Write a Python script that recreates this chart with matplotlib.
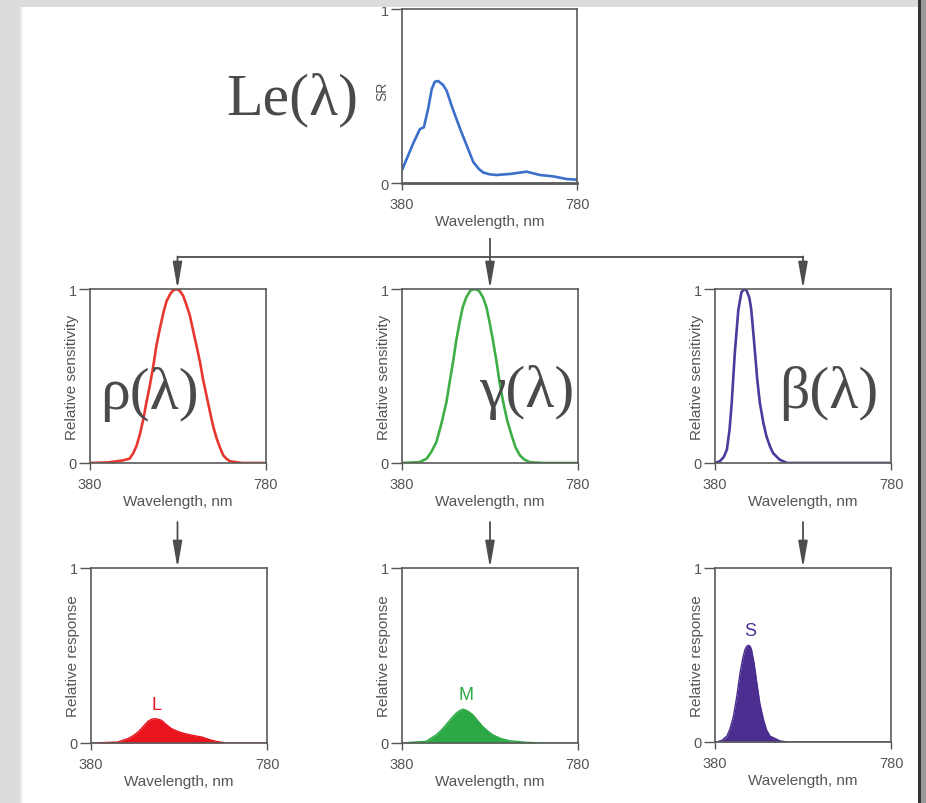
import matplotlib
matplotlib.use('Agg')
import matplotlib.pyplot as plt
from matplotlib.patches import Rectangle, FancyArrowPatch
from matplotlib.lines import Line2D

# ---------------- data ----------------
x_ticks = [380, 780]
y_ticks = [0, 1]

spd_wl = [381, 391, 406, 421, 430, 440, 448, 455, 463, 474, 482, 494, 513, 528, 543,
          556, 566, 580, 596, 627, 665, 695, 726, 756, 779]
spd_val = [0.08, 0.14, 0.23, 0.31, 0.32, 0.43, 0.54, 0.582, 0.586, 0.563, 0.531, 0.44,
           0.31, 0.215, 0.12, 0.08, 0.06, 0.05, 0.046, 0.052, 0.065, 0.046, 0.038, 0.023,
           0.019]

rho_wl = [380, 420, 441, 455, 470, 478, 486, 494, 501, 508, 516, 524, 531, 539, 547,
          554, 562, 568, 576, 584, 592, 599, 607, 614, 622, 630, 637, 645, 653, 660,
          668, 676, 683, 690, 698, 725, 780]
rho = [0, 0.003, 0.01, 0.015, 0.025, 0.055, 0.10, 0.17, 0.25, 0.345, 0.445, 0.56, 0.675,
       0.775, 0.866, 0.93, 0.97, 0.99, 1.0, 0.99, 0.96, 0.91, 0.847, 0.765, 0.675, 0.58,
       0.48, 0.385, 0.29, 0.21, 0.14, 0.085, 0.044, 0.025, 0.01, 0, 0]

gamma_wl = [380, 420, 436, 447, 458, 469, 481, 488, 496, 503, 511, 518, 526, 535, 545,
            555, 564, 572, 579, 587, 595, 602, 610, 619, 629, 638, 648, 658, 670, 700,
            780]
gamma = [0, 0.005, 0.025, 0.065, 0.12, 0.22, 0.35, 0.46, 0.58, 0.70, 0.81, 0.895, 0.952,
         0.99, 1.0, 0.99, 0.952, 0.895, 0.81, 0.70, 0.58, 0.46, 0.35, 0.245, 0.16, 0.09,
         0.044, 0.02, 0.005, 0, 0]

beta_wl = [380, 391, 400, 407, 413, 418, 425, 433, 440, 446, 452, 458, 462, 466, 471,
           476, 482, 490, 497, 505, 512, 527, 544, 780]
beta = [0, 0.01, 0.035, 0.077, 0.19, 0.345, 0.632, 0.88, 0.98, 1.0, 0.99, 0.95, 0.89,
        0.78, 0.632, 0.48, 0.345, 0.23, 0.153, 0.095, 0.057, 0.019, 0, 0]

L_wl = [380, 440, 464, 476, 487, 498, 509, 518, 525, 532, 540, 551, 563, 578, 594, 612,
        632, 648, 663, 686, 780]
L_resp = [0, 0.005, 0.025, 0.042, 0.063, 0.092, 0.123, 0.136, 0.139, 0.136, 0.13, 0.105,
          0.082, 0.065, 0.053, 0.043, 0.034, 0.02, 0.01, 0, 0]

M_wl = [380, 435, 458, 469, 480, 492, 503, 512, 520, 530, 541, 552, 563, 575, 586, 604,
        624, 662, 700, 780]
M_resp = [0, 0.01, 0.047, 0.073, 0.104, 0.14, 0.17, 0.187, 0.193, 0.182, 0.161, 0.128,
          0.095, 0.068, 0.047, 0.026, 0.013, 0.004, 0, 0]

S_wl = [380, 384, 396, 407, 414, 422, 430, 437, 443, 448, 452, 456, 460, 463, 469, 475,
        482, 490, 497, 505, 528, 545, 780]
S_resp = [0, 0, 0.01, 0.034, 0.075, 0.149, 0.27, 0.398, 0.48, 0.53, 0.55, 0.556, 0.55,
          0.53, 0.45, 0.34, 0.22, 0.13, 0.07, 0.034, 0.006, 0, 0]

# ---------------- figure ----------------
W, H = 926, 804
fig = plt.figure(figsize=(W / 100, H / 100), dpi=100, facecolor='#dcdcdc')

TC = '#555555'
SANS = ['Liberation Sans', 'DejaVu Sans']
SERIF = ['Liberation Serif', 'DejaVu Serif']


def rect(x0, y0, x1, y1):
    return [x0 / W, 1 - y1 / H, (x1 - x0) / W, (y1 - y0) / H]


def fx(x):
    return x / W


def fy(y):
    return 1 - y / H


# white page
fig.add_artist(Rectangle((fx(20), 0), fx(918) - fx(20), fy(8), transform=fig.transFigure,
                         facecolor='white', edgecolor='none', zorder=-5))
for i, a in enumerate([0.10, 0.06, 0.03]):
    fig.add_artist(Rectangle((fx(20 + i), 0), fx(1), fy(8), transform=fig.transFigure,
                             facecolor='black', alpha=a, edgecolor='none', zorder=-4))


def style(ax, ylabel, lab_x=-0.06, lab_size=11):
    ax.set_xlim(380, 780)
    ax.set_ylim(0, 1)
    ax.set_xticks(x_ticks)
    ax.set_yticks(y_ticks)
    ax.set_xticklabels([str(t) for t in x_ticks], family=SANS)
    ax.set_yticklabels([str(t) for t in y_ticks], family=SANS)
    ax.tick_params(axis='x', length=5, width=1, pad=5, labelsize=10.5, colors=TC)
    ax.tick_params(axis='y', length=8, width=1, pad=1.5, labelsize=10.5, colors=TC)
    for s in ax.spines.values():
        s.set_color('#5a5a5a')
        s.set_linewidth(1.2)
    ax.set_xlabel('Wavelength, nm', fontsize=11, color=TC, family=SANS)
    ax.xaxis.set_label_coords(0.5, -0.177)
    ax.set_ylabel(ylabel, fontsize=lab_size, color=TC, family=SANS)
    ax.yaxis.set_label_coords(lab_x, 0.5)


# top SPD
ax0 = fig.add_axes(rect(402, 10, 577, 184))
ax0.plot(spd_wl, spd_val, color='#3b6fc9', lw=1.9, solid_joinstyle='round')
style(ax0, 'SR', lab_x=-0.07, lab_size=10)
ax0.yaxis.set_label_coords(-0.07, 0.53)
ax0.spines['bottom'].set_linewidth(2.0)

# sensitivities
sens = [
    (rect(90, 290, 266, 464), rho_wl, rho, '#e8372f'),
    (rect(402, 290, 578, 464), gamma_wl, gamma, '#3fae46'),
    (rect(715, 290, 891, 464), beta_wl, beta, '#4c3b9c'),
]
sens_axes = []
for pos, wl, v, c in sens:
    ax = fig.add_axes(pos)
    ax.plot(wl, v, color=c, lw=1.9, solid_joinstyle='round')
    style(ax, 'Relative sensitivity')
    sens_axes.append(ax)

# responses
resp = [
    (rect(91, 569, 267, 744), L_wl, L_resp, '#e8141e', 'L'),
    (rect(402, 569, 578, 744), M_wl, M_resp, '#2ca844', 'M'),
    (rect(715, 569, 891, 743), S_wl, S_resp, '#4b2e90', 'S'),
]
for pos, wl, v, c, name in resp:
    ax = fig.add_axes(pos)
    ax.fill_between(wl, v, 0, color=c, lw=0)
    ax.plot(wl, v, color=c, lw=1.0)
    style(ax, 'Relative response')
    pk = max(range(len(v)), key=lambda i: v[i])
    ax.text(wl[pk] + 5, v[pk] + 0.035, name, color=c, fontsize=13, family=SANS,
            ha='center', va='bottom')

# Greek labels
GC = '#4a4a4a'
fig.text(fx(292), fy(100), 'Le(λ)', family=SERIF, fontsize=43, color=GC,
         ha='center', va='center')
greek = ['ρ(λ)', 'γ(λ)', 'β(λ)']
gpos = [(0.335, 0.40), (0.71, 0.41), (0.645, 0.405)]
for ax, g, (gx, gy) in zip(sens_axes, greek, gpos):
    ax.text(gx, gy, g, transform=ax.transAxes, family=SERIF, fontsize=43, color=GC,
            ha='center', va='center')

# connectors and arrows
LC = '#4d4d4d'
fig.add_artist(Line2D([fx(490), fx(490)], [fy(240), fy(258)], color=LC, lw=1.3,
                      transform=fig.transFigure))
fig.add_artist(Line2D([fx(177.5), fx(803)], [fy(258), fy(258)], color=LC, lw=1.3,
                      transform=fig.transFigure))


def arrow(x, y0, y1):
    fig.add_artist(FancyArrowPatch((fx(x), fy(y0)), (fx(x), fy(y1)),
                                   transform=fig.transFigure,
                                   arrowstyle='-|>,head_length=1.6,head_width=0.28',
                                   mutation_scale=10, color=LC, lw=1.3,
                                   shrinkA=0, shrinkB=0))


for x in [177.5, 490, 803]:
    arrow(x, 257.5, 290)
    arrow(x, 523, 569)

# frame strips drawn on top
fig.add_artist(Rectangle((0, fy(8)), 1, 1 - fy(8), transform=fig.transFigure,
                         facecolor='#dcdcdc', edgecolor='none', zorder=20))
fig.add_artist(Rectangle((fx(918), 0), fx(3), 1, transform=fig.transFigure,
                         facecolor='#333333', edgecolor='none', zorder=20))
fig.add_artist(Rectangle((fx(921), 0), fx(5), 1, transform=fig.transFigure,
                         facecolor='#9a9a9a', edgecolor='none', zorder=20))

fig.savefig('out.png', dpi=100, facecolor=fig.get_facecolor())
